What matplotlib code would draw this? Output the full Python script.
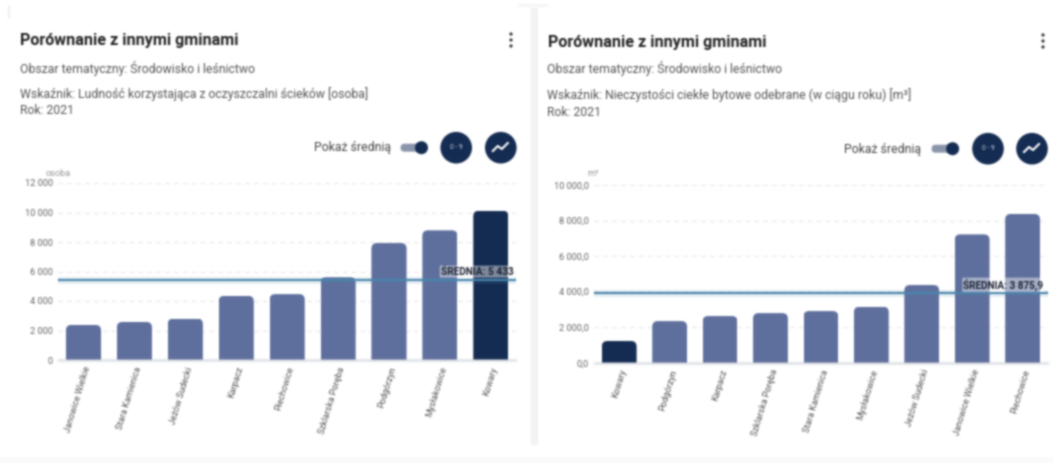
import numpy as np
import matplotlib
matplotlib.use("Agg")
import matplotlib.pyplot as plt
from matplotlib.patches import Circle, FancyBboxPatch, Rectangle
from matplotlib.text import Text
from matplotlib.lines import Line2D

plt.rcParams["font.family"] = ["Roboto", "DejaVu Sans"]

W, H = 1053, 463
TITLE = "Porównanie z innymi gminami"
AREA = "Obszar tematyczny: Środowisko i leśnictwo"
YEAR = "Rok: 2021"
TOGGLE = "Pokaż średnią"

# left panel
left_names = ["Janowice Wielkie", "Stara Kamienica", "Jeżów Sudecki", "Karpacz", "Piechowice",
              "Szklarska Poręba", "Podgórzyn", "Mysłakowice", "Kowary"]
left_values = [2380, 2580, 2810, 4350, 4465, 5600, 7930, 8790, 10120]
left_ticks = [0, 2000, 4000, 6000, 8000, 10000, 12000]
left_ticklabels = ["0", "2 000", "4 000", "6 000", "8 000", "10 000", "12 000"]
left_mean = 5440
left_mean_label = "ŚREDNIA: 5 433"
left_indicator = "Wskaźnik: Ludność korzystająca z oczyszczalni ścieków [osoba]"
left_unit = "osoba"

# right panel
right_names = ["Kowary", "Podgórzyn", "Karpacz", "Szklarska Poręba", "Stara Kamienica",
               "Mysłakowice", "Jeżów Sudecki", "Janowice Wielkie", "Piechowice"]
right_values = [1220, 2340, 2625, 2790, 2905, 3150, 4370, 7220, 8370]
right_ticks = [0, 2000, 4000, 6000, 8000, 10000]
right_ticklabels = ["0,0", "2 000,0", "4 000,0", "6 000,0", "8 000,0", "10 000,0"]
right_mean = 3925
right_mean_label = "ŚREDNIA: 3 875,9"
right_indicator = "Wskaźnik: Nieczystości ciekłe bytowe odebrane (w ciągu roku) [m³]"
right_unit = "m³"

BAR = "#5f6f9e"
DARK = "#152c52"
MEAN = "#4a86ad"


def soften(img, dpi, sigma=0.9, pad=3):
    # the reference is a blurry screenshot, so take the sharp edge off everything
    img = np.pad(img, ((pad, pad), (pad, pad), (0, 0)))
    xs = np.arange(-pad, pad + 1)
    k = np.exp(-xs**2 / (2 * sigma**2))
    k /= k.sum()
    a = img[..., 3:]
    pm = np.concatenate([img[..., :3] * a, a], axis=2)
    for axis in (0, 1):
        pm = np.apply_along_axis(lambda m: np.convolve(m, k, mode="same"), axis, pm)
    a = np.clip(pm[..., 3:], 1e-4, 1)
    out = np.concatenate([np.clip(pm[..., :3] / a, 0, 1), pm[..., 3:]], axis=2)
    return out, -pad, -pad


fig = plt.figure(figsize=(W / 100, H / 100), dpi=100, facecolor="white")
bg = fig.add_axes([0, 0, 1, 1])
bg.set_xlim(0, W); bg.set_ylim(H, 0); bg.axis("off")

# gap between the two cards
bg.add_patch(Rectangle((531, 8), 7, H - 26, color="#f3f3f3", lw=0))
bg.add_patch(Rectangle((518, 4), 30, 3, color="#f6f6f6", lw=0))
bg.add_patch(Rectangle((8, 6), 2, 12, color="#efefef", lw=0))
bg.add_patch(Rectangle((0, 458), W, 5, color="#fafafa", lw=0))


def header(x0, dy, indicator, toggle_x, knob_x, c1, c2, dots_x):
    ink = "#555555"
    bg.text(x0, 41 + dy, TITLE, fontsize=11.6, fontweight="bold", color="#222222", va="center")
    bg.text(x0 - 0.5, 68 + dy, AREA, fontsize=8.85, color=ink, va="center")
    bg.text(x0 - 0.5, 94 + dy, indicator, fontsize=8.85, color=ink, va="center")
    bg.text(x0 - 0.5, 111 + dy, YEAR, fontsize=8.85, color=ink, va="center")
    bg.text(toggle_x, 148 + dy, TOGGLE, fontsize=8.85, color="#444444", va="center")
    # toggle
    bg.add_patch(FancyBboxPatch((knob_x - 21, 143.7 + dy), 21, 8, boxstyle="round,pad=0,rounding_size=4",
                                color="#8a95ab", lw=0))
    bg.add_patch(Circle((knob_x, 147.7 + dy), 6.5, color=DARK, lw=0))
    # round buttons
    bg.add_patch(Circle((c1, 147.7 + dy), 15.8, color=DARK, lw=0))
    bg.text(c1, 147.7 + dy, "0 - 9", fontsize=4.8, color="#c9d1e0", ha="center", va="center")
    bg.add_patch(Circle((c2, 147.7 + dy), 15.8, color=DARK, lw=0))
    bg.plot([c2 - 8, c2 - 3, c2 + 1, c2 + 7], [151 + dy, 146 + dy, 149 + dy, 143 + dy],
            color="white", lw=1.5, solid_joinstyle="round")
    # menu dots
    for oy in (-6, 0, 6):
        bg.add_patch(Circle((dots_x, 40 + dy + oy), 1.6, color="#333333", lw=0))


header(20, 0, left_indicator, 314.4, 421.5, 456.2, 500.8, 511)
header(547.5, 1, right_indicator, 844.5, 952.6, 988, 1032, 1043)


def panel(px, names, values, ticks, ticklabels, mean, mean_label, unit, unit_xy, hi, label_x, label_size):
    x0, x1, ytop, ybot = px
    ax = fig.add_axes([x0 / W, 1 - ybot / H, (x1 - x0) / W, (ybot - ytop) / H])
    ax.patch.set_alpha(0)
    xs = np.arange(len(names))
    ax.set_xlim(-0.5, len(names) - 0.5)
    ax.set_ylim(0, ticks[-1])
    ax.yaxis.grid(True, color="#e8e8e8", lw=0.8, ls=(0, (4, 4)))
    ax.set_axisbelow(True)
    bars = ax.bar(xs, values, width=0.69, color=[DARK if n == hi else BAR for n in names], zorder=2)
    # round the top corners, the lower ones go under the axis
    aspect = (ticks[-1] / (ybot - ytop)) / (len(names) / (x1 - x0))
    for b in bars:
        clip = FancyBboxPatch((b.get_x(), -2000), b.get_width(), b.get_height() + 2000,
                              boxstyle="round,pad=0,rounding_size=0.11", mutation_aspect=aspect,
                              transform=ax.transData)
        b.set_clip_path(clip)
    ax.axhline(mean, color=MEAN, lw=5, alpha=0.15, zorder=3)
    ax.axhline(mean, color=MEAN, lw=1.5, zorder=3)
    for s in ("left", "right", "top"):
        ax.spines[s].set_visible(False)
    ax.spines["bottom"].set_color("#c4c8d0")
    ax.spines["bottom"].set_linewidth(1)
    ax.set_yticks(ticks, ticklabels)
    ax.set_xticks(xs, names)
    ax.tick_params(axis="y", length=0, pad=3.7, labelsize=6.7, labelcolor="#666666")
    ax.tick_params(axis="x", length=0, pad=4, labelsize=6.5, labelcolor="#555555")
    for t in ax.get_xticklabels():
        t.set_rotation(73)
        t.set_ha("right")
        t.set_va("top")
        t.set_rotation_mode("anchor")
    bg.text(unit_xy[0], unit_xy[1], unit, fontsize=6.6, color="#999999", ha="center", va="center")
    ax.text(label_x, mean + ticks[-1] * 0.046, mean_label, fontsize=label_size, fontweight="bold",
            color="#1c2230", ha="right", va="center", zorder=5,
            bbox=dict(boxstyle="round,pad=0.1", fc="white", ec="none", alpha=0.45))
    return ax


panel((58, 516.3, 183, 360), left_names, left_values, left_ticks, left_ticklabels, left_mean,
      left_mean_label, left_unit, (58, 173), "Kowary", 8.44, 7.3)
panel((594, 1047.8, 185, 362.7), right_names, right_values, right_ticks, right_ticklabels, right_mean,
      right_mean_label, right_unit, (592.7, 174), "Kowary", 8.41, 7.2)

skip = {id(fig.patch)} | {id(a.patch) for a in fig.axes}
for o in fig.findobj(lambda a: isinstance(a, (Text, Line2D, Rectangle, Circle, FancyBboxPatch))):
    if id(o) not in skip:
        o.set_agg_filter(soften)
for ax in fig.axes:
    for s in ax.spines.values():
        s.set_agg_filter(soften)

fig.savefig("out.png", dpi=100, facecolor="white")
